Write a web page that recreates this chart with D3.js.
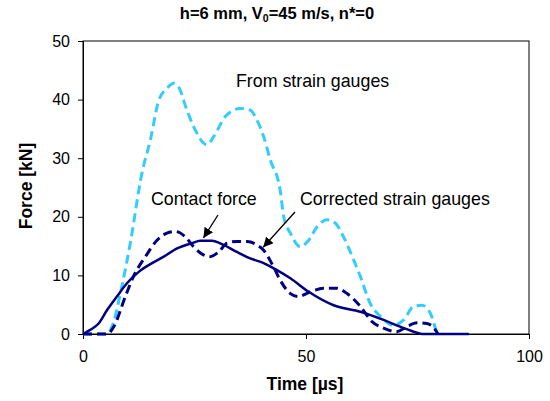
<!DOCTYPE html>
<html>
<head>
<meta charset="utf-8">
<script src="https://cdn.jsdelivr.net/npm/d3@7"></script>
<style>
  body { margin: 0; background: #fff; }
  svg { font-family: "Liberation Sans", Arial, sans-serif; }
</style>
</head>
<body>
<svg width="550" height="401"></svg>
<script>
// time [µs], force [kN]
const gaugeT = [0, 5.4, 6.5, 8.7, 10.6, 13.2, 15.1, 17, 18.8, 20.3, 21.4, 23.3, 24.8, 27.8, 29.3, 31.9, 35.3, 37.5, 39, 40.5, 42, 44.2, 45, 46.5, 48.7, 50.6, 52.5, 54.7, 56.6, 58.4, 60.7, 62.2, 64.4, 66.7, 69.6, 71.9, 74.1, 76, 77.9, 79, 79.4];
const gaugeF = [0, 0, 1.25, 8.1, 15.5, 27.4, 33.1, 39.9, 41.9, 42.8, 42.2, 38.2, 35.4, 32.3, 33.7, 37.1, 38.5, 38.2, 36.5, 33.7, 29.7, 24.6, 20, 17.2, 14.9, 16, 18.3, 19.5, 18.9, 16.6, 12.6, 9.8, 5.2, 3, 1.5, 2.4, 4.7, 4.9, 3.5, 1, 0];

const corrT = [0, 5.5, 6.9, 9.5, 11.3, 14, 16.6, 18.8, 20.7, 22.9, 24.8, 27, 28.5, 30.4, 32.3, 34.5, 36.8, 39, 40.5, 42.7, 44.2, 46.5, 48.2, 51, 53.9, 56.9, 59.2, 62.2, 64.8, 67.4, 70.4, 72.6, 74.9, 77.1, 79, 79.6];
const corrF = [0, 0, 1.25, 6.4, 9.8, 13.2, 16, 17.2, 17.5, 16.6, 14.9, 13.5, 13.2, 14, 15.5, 15.8, 15.8, 15.2, 14.3, 11.5, 9.2, 6.9, 6.4, 7.2, 7.8, 7.8, 6.9, 4.7, 2.1, 1, 0.4, 1.25, 1.9, 1.8, 0.7, 0];

const contactT = [0, 1.6, 3.5, 5.4, 7.6, 9.9, 12.5, 15.5, 18.1, 21.1, 24.4, 26.3, 28.9, 31.5, 34.5, 37.5, 40.5, 43.5, 46.5, 50.6, 56.2, 62.2, 67.4, 71.1, 74.9, 76, 86.5];
const contactF = [0, 0.7, 1.8, 4.1, 6.4, 8.7, 10.6, 12.1, 13.2, 14.6, 15.5, 15.9, 15.9, 15.2, 14, 12.9, 12.1, 10.9, 9.5, 7.2, 4.9, 3.8, 2.4, 1.25, 0.2, 0, 0];

const xTicks = [0, 50, 100];
const yTicks = [0, 10, 20, 30, 40, 50];

const svg = d3.select('svg');
const plotL = 83, plotR = 529, plotT = 41, plotB = 334;

const x = d3.scaleLinear().domain([0, 100]).range([plotL, plotR]);
const y = d3.scaleLinear().domain([0, 50]).range([plotB, plotT]);

// frame
svg.append('rect')
    .attr('x', plotL).attr('y', plotT)
    .attr('width', plotR - plotL).attr('height', plotB - plotT)
    .attr('fill', 'none').attr('stroke', '#000').attr('stroke-width', 1);

const xAxis = svg.append('g')
    .attr('transform', `translate(0,${plotB})`)
    .call(d3.axisBottom(x).tickValues(xTicks).tickSize(5).tickPadding(12));
const yAxis = svg.append('g')
    .attr('transform', `translate(${plotL},0)`)
    .call(d3.axisLeft(y).tickValues(yTicks).tickSize(5).tickPadding(8));
[xAxis, yAxis].forEach(a => {
    a.select('.domain').attr('stroke', '#000');
    a.selectAll('.tick text').attr('font-size', 16).attr('fill', '#000')
        .attr('font-family', '"Liberation Sans", Arial, sans-serif');
});

const line = d3.line().x(d => x(d[0])).y(d => y(d[1])).curve(d3.curveMonotoneX);
const zip = (a, b) => a.map((v, i) => [v, b[i]]);

svg.append('path').datum(zip(gaugeT, gaugeF))
    .attr('d', line).attr('fill', 'none')
    .attr('stroke', '#33ccff').attr('stroke-width', 3)
    .attr('stroke-dasharray', '9,5');

svg.append('path').datum(zip(corrT, corrF))
    .attr('d', line).attr('fill', 'none')
    .attr('stroke', '#000080').attr('stroke-width', 3)
    .attr('stroke-dasharray', '9,5');

svg.append('path').datum(zip(contactT, contactF))
    .attr('d', line).attr('fill', 'none')
    .attr('stroke', '#000080').attr('stroke-width', 2.5);

// arrows
svg.append('defs').append('marker')
    .attr('id', 'head').attr('viewBox', '0 0 10 10')
    .attr('refX', 10).attr('refY', 5)
    .attr('markerWidth', 10).attr('markerHeight', 10)
    .attr('markerUnits', 'userSpaceOnUse')
    .attr('orient', 'auto')
    .append('path').attr('d', 'M0,0L10,5L0,10z').attr('fill', '#000');

svg.append('line')
    .attr('x1', 218).attr('y1', 215).attr('x2', x(27)).attr('y2', y(16.4))
    .attr('stroke', '#000').attr('stroke-width', 1.3).attr('marker-end', 'url(#head)');
svg.append('line')
    .attr('x1', 295).attr('y1', 212).attr('x2', x(40.4)).attr('y2', y(14.8))
    .attr('stroke', '#000').attr('stroke-width', 1.3).attr('marker-end', 'url(#head)');

// annotations
svg.append('text').attr('x', 236).attr('y', 87).attr('font-size', 17.8).text('From strain gauges');
svg.append('text').attr('x', 151).attr('y', 205).attr('font-size', 17.8).text('Contact force');
svg.append('text').attr('x', 300).attr('y', 205).attr('font-size', 17.8).text('Corrected strain gauges');

// title and axis labels
const title = svg.append('text').attr('x', 277).attr('y', 19)
    .attr('text-anchor', 'middle').attr('font-size', 16.5).attr('font-weight', 'bold');
title.append('tspan').text('h=6 mm, V');
title.append('tspan').attr('font-size', 10.5).attr('dy', 3).text('0');
title.append('tspan').attr('dy', -3).text('=45 m/s, n*=0');

svg.append('text').attr('x', 305).attr('y', 390)
    .attr('text-anchor', 'middle').attr('font-size', 17.5).attr('font-weight', 'bold')
    .text('Time [µs]');
svg.append('text')
    .attr('transform', 'translate(32,186) rotate(-90)')
    .attr('text-anchor', 'middle').attr('font-size', 17.5).attr('font-weight', 'bold')
    .text('Force [kN]');
</script>
</body>
</html>
